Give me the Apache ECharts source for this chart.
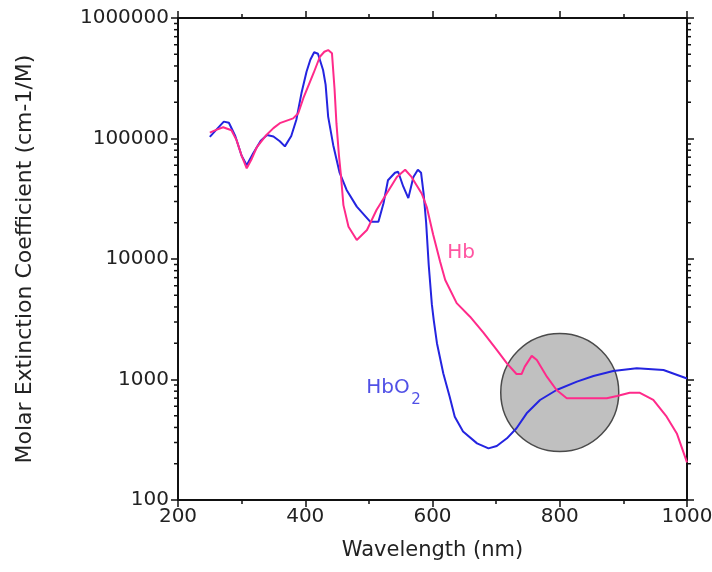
<!DOCTYPE html>
<html>
<head>
<meta charset="utf-8">
<script src="https://cdn.jsdelivr.net/npm/echarts@6/dist/echarts.min.js"></script>
<style>
html,body{margin:0;padding:0;background:#fff;}
#chart{width:712px;height:572px;}
</style>
</head>
<body>
<div id="chart"></div>
<script>
// ---- data ----
const hbo2Wavelength = [250,260,272,280,290,300,308,318,330,340,350,360,368,378,386,394,402,408,414,420,428,432,436,444,454,465,481,502,515,523,530,541,546,554,562,570,577,582,586,590,594,599,602,607,617,627,635,648,670,688,701,717,732,748,769,795,827,853,884,921,963,1000];
const hbo2Values = [103000,118000,138000,135000,105000,72000,60000,75000,96000,107000,104000,95000,86000,105000,143000,237000,358000,450000,520000,505000,370000,280000,152000,88000,52000,37400,27200,20400,20400,29000,45000,52000,53000,40000,32000,48000,55000,52000,35000,20000,9000,4200,3100,2000,1120,720,490,370,295,268,281,325,394,524,676,818,960,1069,1178,1240,1200,1020];

const hbWavelength = [250,260,271,284,292,300,308,316,324,339,350,360,381,389,397,413,423,430,436,442,446,449,453,456,460,468,481,497,512,528,544,557,567,583,591,601,612,620,638,659,680,701,717,732,740,745,756,764,780,795,811,874,890,910,926,947,968,984,1000];
const hbValues = [112000,118000,124000,117000,97000,72000,56600,68000,85000,107000,122000,134000,147000,162000,216000,348000,477000,525000,542000,509000,260000,134000,72000,50000,28000,18500,14400,17400,25500,35000,48000,55000,48000,35000,27000,16000,9500,6700,4300,3320,2450,1760,1360,1110,1110,1280,1570,1450,1050,818,700,700,729,776,776,676,491,357,205];

const xTickValues = [200,400,600,800,1000];
const yTickLabels = ['100','1000','10000','100000','1000000'];
const yMinorTickValues = [];
[100,1000,10000,100000].forEach(d => { for (let k = 2; k <= 9; k++) yMinorTickValues.push(k * d); });

const highlightCircle = [[800, 780]];
const seriesLabels = [
  {text: 'Hb', x: 645, y: 11200, color: '#ff2a8a', size: 20},
  {text: 'HbO', x: 530, y: 850, color: '#2424e0', size: 20},
  {text: '2', x: 574, y: 680, color: '#2424e0', size: 15}
];

// ---- chart ----
const FONT = 'DejaVu Sans';
const TXT = '#222';
const pair = (xs, ys) => xs.map((x, i) => [x, ys[i]]);

const chart = echarts.init(document.getElementById('chart'), null, {renderer: 'canvas'});

const commonX = {
  type: 'value', min: 200, max: 1000, interval: 200,
  axisLine: {show: true, onZero: false, lineStyle: {color: '#111', width: 2}},
  axisTick: {show: true, length: 7, lineStyle: {color: '#111', width: 1.5}},
  minorTick: {show: true, splitNumber: 2, length: 4, lineStyle: {color: '#111', width: 1.5}},
  splitLine: {show: false}, minorSplitLine: {show: false}
};
const commonY = {
  type: 'log', logBase: 10, min: 100, max: 1000000,
  axisLine: {show: true, onZero: false, lineStyle: {color: '#111', width: 2}},
  axisTick: {show: true, length: 7, lineStyle: {color: '#111', width: 1.5}},
  splitLine: {show: false}
};

chart.setOption({
  animation: false,
  backgroundColor: '#fff',
  grid: {left: 178, right: 25, top: 18, bottom: 72, containLabel: false, outerBoundsMode: 'none'},
  xAxis: [
    Object.assign({}, commonX, {
      position: 'bottom',
      axisLabel: {show: true, color: TXT, fontFamily: FONT, fontSize: 20, margin: 7,
        formatter: v => xTickValues.includes(v) ? String(v) : ''},
      name: 'Wavelength (nm)', nameLocation: 'middle', nameGap: 40,
      nameTextStyle: {color: TXT, fontFamily: FONT, fontSize: 21}
    }),
    Object.assign({}, commonX, {position: 'top', axisLabel: {show: false}})
  ],
  yAxis: [
    Object.assign({}, commonY, {
      position: 'left',
      axisLabel: {show: true, color: TXT, fontFamily: FONT, fontSize: 20, margin: 9,
        formatter: v => { const s = String(Math.round(v)); return yTickLabels.includes(s) ? s : ''; }},
      name: 'Molar Extinction Coefficient (cm-1/M)', nameLocation: 'middle', nameGap: 142,
      nameTextStyle: {color: TXT, fontFamily: FONT, fontSize: 22}
    }),
    Object.assign({}, commonY, {position: 'right', axisLabel: {show: false}})
  ],
  series: [
    {
      type: 'scatter', name: 'circle', xAxisIndex: 0, yAxisIndex: 0, z: 1,
      data: highlightCircle, symbol: 'circle', symbolSize: 118, silent: true,
      itemStyle: {color: '#c0c0c0', borderColor: '#4a4a4a', borderWidth: 1.5, opacity: 1}
    },
    {
      type: 'custom', name: 'yMinorTicks', xAxisIndex: 0, yAxisIndex: 0, z: 6, silent: true, clip: false,
      data: yMinorTickValues.map(v => [200, v]),
      renderItem: function (params, api) {
        const v = api.value(1);
        const pl = api.coord([200, v]);
        const pr = api.coord([1000, v]);
        const style = {stroke: '#111', lineWidth: 1.5};
        return {
          type: 'group',
          children: [
            {type: 'line', shape: {x1: pl[0], y1: pl[1], x2: pl[0] - 4, y2: pl[1]}, style: style},
            {type: 'line', shape: {x1: pr[0], y1: pr[1], x2: pr[0] + 4, y2: pr[1]}, style: style}
          ]
        };
      }
    },
    {
      type: 'line', name: 'HbO2', xAxisIndex: 0, yAxisIndex: 0, z: 3,
      data: pair(hbo2Wavelength, hbo2Values), showSymbol: false, symbol: 'none',
      lineStyle: {color: '#2424e0', width: 2}
    },
    {
      type: 'line', name: 'Hb', xAxisIndex: 0, yAxisIndex: 0, z: 4,
      data: pair(hbWavelength, hbValues), showSymbol: false, symbol: 'none',
      lineStyle: {color: '#ff2a8a', width: 2}
    },
    {
      type: 'scatter', name: 'labels', xAxisIndex: 0, yAxisIndex: 0, z: 5, silent: true,
      symbolSize: 0,
      data: seriesLabels.map(l => ({
        value: [l.x, l.y],
        label: {show: true, position: 'inside', formatter: l.text, color: l.color,
          fontFamily: FONT, fontSize: l.size}
      }))
    }
  ]
});
</script>
</body>
</html>
